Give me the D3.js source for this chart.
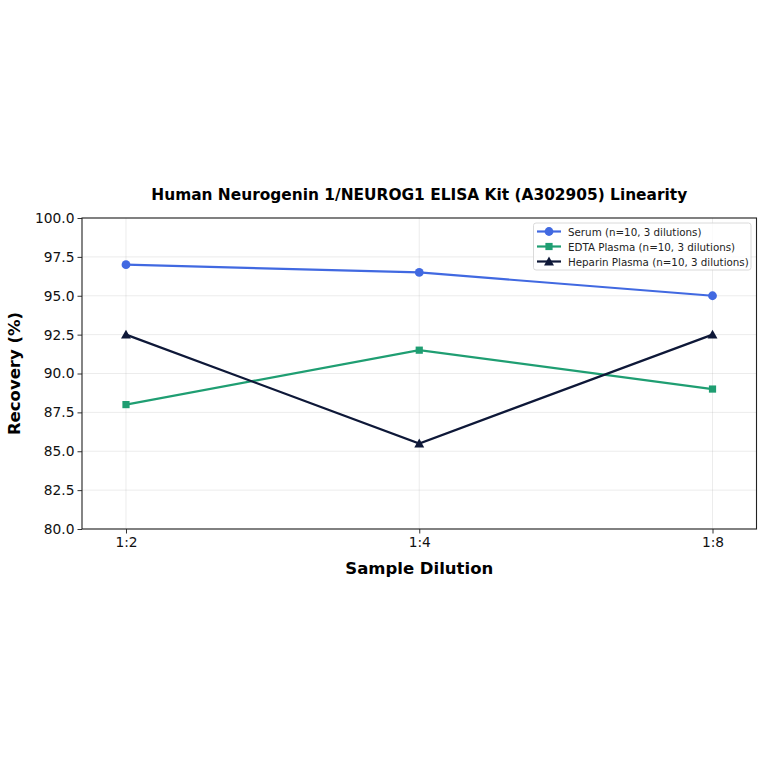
<!DOCTYPE html>
<html><head><meta charset="utf-8">
<script src="https://cdn.jsdelivr.net/npm/d3@7"></script>
<style>body{margin:0;background:#fff;} svg{display:block;font-family:"DejaVu Sans",sans-serif;}</style>
</head><body>
<script>
const categories = ["1:2", "1:4", "1:8"];
const seriesNames = ["Serum (n=10, 3 dilutions)", "EDTA Plasma (n=10, 3 dilutions)", "Heparin Plasma (n=10, 3 dilutions)"];
const serumValues = [97.0, 96.5, 95.0];
const edtaValues = [88.0, 91.5, 89.0];
const heparinValues = [92.5, 85.5, 92.5];
const yTicks = [80.0, 82.5, 85.0, 87.5, 90.0, 92.5, 95.0, 97.5, 100.0];
const colors = ["#4169e1", "#1f9e72", "#0e1838"];
const markers = ["circle", "square", "triangle"];

const W = 764, H = 764;
const m = {l: 82, r: 7.5, t: 218, b: 235};
const svg = d3.select("body").append("svg").attr("width", W).attr("height", H);
const x = d3.scaleLinear().domain([-0.15, 2.15]).range([m.l, W - m.r]);
const y = d3.scaleLinear().domain([80, 100]).range([H - m.b, m.t]);

const g = svg.append("g");
// grid
g.selectAll(".gy").data(yTicks).enter().append("line")
  .attr("x1", m.l).attr("x2", W - m.r).attr("y1", d => y(d)).attr("y2", d => y(d))
  .attr("stroke", "#b0b0b0").attr("stroke-opacity", 0.3).attr("stroke-width", 0.8);
g.selectAll(".gx").data(categories).enter().append("line")
  .attr("x1", (d, i) => x(i)).attr("x2", (d, i) => x(i)).attr("y1", m.t).attr("y2", H - m.b)
  .attr("stroke", "#b0b0b0").attr("stroke-opacity", 0.3).attr("stroke-width", 0.8);

// axes
const yAxis = d3.axisLeft(y).tickValues(yTicks).tickFormat(d3.format(".1f")).tickSize(4.5).tickPadding(3);
const xAxis = d3.axisBottom(x).tickValues([0, 1, 2]).tickFormat(i => categories[i]).tickSize(4.5).tickPadding(4);
const ya = svg.append("g").attr("transform", `translate(${m.l},0)`).call(yAxis);
const xa = svg.append("g").attr("transform", `translate(0,${H - m.b})`).call(xAxis);
[ya, xa].forEach(a => {
  a.select(".domain").remove();
  a.selectAll("text").attr("font-size", 13.8).attr("fill", "#111").attr("font-family", "DejaVu Sans");
  a.selectAll("line").attr("stroke", "#333");
});
// frame
svg.append("rect").attr("x", m.l).attr("y", m.t).attr("width", W - m.r - m.l).attr("height", H - m.b - m.t)
  .attr("fill", "none").attr("stroke", "#222").attr("stroke-width", 1.1);

const allSeries = [serumValues, edtaValues, heparinValues];
const line = d3.line().x((d, i) => x(i)).y(d => y(d));
function drawMarker(sel, type, cx, cy, color, s) {
  if (type === "circle") sel.append("circle").attr("cx", cx).attr("cy", cy).attr("r", s * 0.55).attr("fill", color);
  else if (type === "square") sel.append("rect").attr("x", cx - s * 0.45).attr("y", cy - s * 0.45).attr("width", s * 0.9).attr("height", s * 0.9).attr("fill", color);
  else {
    const r = s * 0.62;
    sel.append("path").attr("d", `M${cx},${cy - r} L${cx + r},${cy + r * 0.8} L${cx - r},${cy + r * 0.8} Z`).attr("fill", color);
  }
}
allSeries.forEach((vals, si) => {
  svg.append("path").datum(vals).attr("d", line).attr("fill", "none")
    .attr("stroke", colors[si]).attr("stroke-width", 2.2);
  vals.forEach((v, i) => drawMarker(svg, markers[si], x(i), y(v), colors[si], 8));
});

// title
svg.append("text").attr("x", (m.l + W - m.r) / 2).attr("y", 199.5).attr("text-anchor", "middle")
  .attr("font-size", 15.4).attr("font-weight", "bold").text("Human Neurogenin 1/NEUROG1 ELISA Kit (A302905) Linearity");
svg.append("text").attr("x", (m.l + W - m.r) / 2).attr("y", 574).attr("text-anchor", "middle")
  .attr("font-size", 16.5).attr("font-weight", "bold").text("Sample Dilution");
svg.append("text").attr("transform", `translate(20,${(m.t + H - m.b) / 2}) rotate(-90)`).attr("text-anchor", "middle")
  .attr("font-size", 16.5).attr("font-weight", "bold").text("Recovery (%)");

// legend
const lg = svg.append("g");
lg.append("rect").attr("x", 533.5).attr("y", 223).attr("width", 217.5).attr("height", 47).attr("rx", 2.5)
  .attr("fill", "#fff").attr("fill-opacity", 0.8).attr("stroke", "#d0d0d0").attr("stroke-width", 0.8);
seriesNames.forEach((n, i) => {
  const yy = 231.5 + i * 15;
  lg.append("line").attr("x1", 537).attr("x2", 561).attr("y1", yy).attr("y2", yy).attr("stroke", colors[i]).attr("stroke-width", 2.2);
  drawMarker(lg, markers[i], 549, yy, colors[i], 8);
  lg.append("text").attr("x", 568).attr("y", yy + 4).attr("font-size", 10.3).attr("fill", "#222").text(n);
});
</script>
</body></html>
